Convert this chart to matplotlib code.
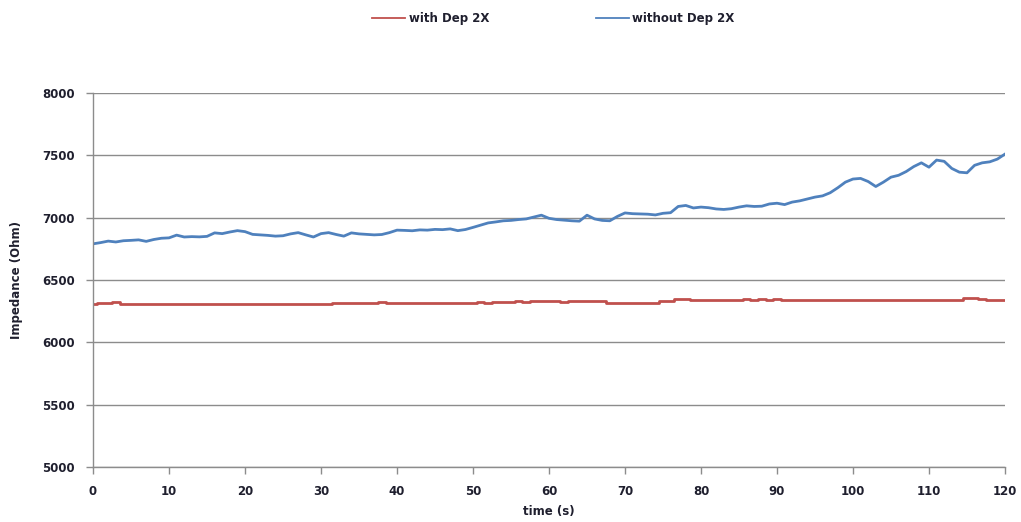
import numpy as np
import matplotlib.pyplot as plt

# time axis, one sample per second
time_s = np.arange(0, 121)

without_dep = [
    6790, 6800, 6812, 6805, 6815, 6818, 6822, 6810, 6825, 6835,
    6838, 6860, 6845, 6848, 6846, 6850, 6878, 6872, 6885, 6896,
    6888, 6866, 6862, 6858, 6852, 6855, 6870, 6880, 6862, 6845,
    6872, 6880, 6865, 6852, 6878, 6870, 6866, 6862, 6865, 6880,
    6900, 6898, 6895, 6902, 6900, 6906, 6904, 6910, 6896, 6905,
    6922, 6940, 6958, 6966, 6975, 6978, 6985, 6990, 7005, 7020,
    6995, 6985, 6980, 6975, 6972, 7020, 6990, 6978, 6975, 7010,
    7038, 7032, 7030, 7028, 7022, 7035, 7040, 7090, 7098, 7078,
    7085, 7080, 7070, 7066, 7072, 7085, 7095, 7090, 7092, 7110,
    7116, 7105, 7125, 7135, 7150, 7165, 7175, 7200, 7240, 7285,
    7310, 7315, 7290, 7250, 7285, 7325, 7340, 7370, 7410, 7440,
    7405, 7462, 7452, 7395, 7365, 7360, 7420, 7440, 7448, 7470,
    7510,
]

with_dep = [
    6305, 6318, 6312, 6320, 6305, 6305, 6305, 6305, 6305, 6305,
    6305, 6305, 6305, 6305, 6305, 6305, 6305, 6305, 6305, 6305,
    6308, 6308, 6310, 6310, 6310, 6310, 6310, 6310, 6310, 6310,
    6310, 6310, 6312, 6312, 6312, 6312, 6312, 6312, 6320, 6312,
    6312, 6312, 6312, 6312, 6312, 6312, 6312, 6312, 6312, 6312,
    6315, 6322, 6318, 6326, 6320, 6322, 6330, 6326, 6332, 6328,
    6334, 6330, 6326, 6332, 6328, 6333, 6334, 6334, 6318, 6318,
    6318, 6318, 6318, 6318, 6318, 6330, 6335, 6345, 6344, 6338,
    6340, 6340, 6340, 6340, 6340, 6340, 6344, 6338, 6344, 6340,
    6344, 6338, 6342, 6340, 6342, 6340, 6340, 6341, 6341, 6341,
    6341, 6341, 6341, 6341, 6341, 6341, 6341, 6341, 6341, 6341,
    6341, 6341, 6341, 6341, 6341, 6352, 6356, 6345, 6341, 6341,
    6341,
]

x_ticks = np.arange(0, 121, 10)
y_ticks = np.arange(5000, 8001, 500)

plt.rcParams['font.family'] = ['DejaVu Sans']
text_color = '#1f1f2e'
fs = 8.5

fig = plt.figure(figsize=(10.21, 5.22), dpi=100)
ax = fig.add_axes([0.0911, 0.1054, 0.8932, 0.7164])

# red trace is nearly flat with small square bumps, blue one wanders upward
ax.plot(time_s, with_dep, color='#C0504D', lw=2.0, drawstyle='steps-mid',
        label='with Dep 2X')
ax.plot(time_s, without_dep, color='#4F81BD', lw=2.0, label='without Dep 2X')

ax.set_xlim(0, 120)
ax.set_ylim(5000, 8000)
ax.set_xticks(x_ticks)
ax.set_yticks(y_ticks)
ax.yaxis.grid(True, color='#8c8c8c', lw=1.0)
ax.set_axisbelow(True)

for side in ('top', 'right'):
    ax.spines[side].set_visible(False)
for side in ('left', 'bottom'):
    ax.spines[side].set_color('#8c8c8c')
    ax.spines[side].set_linewidth(1.0)

ax.tick_params(axis='both', colors='#8c8c8c', length=5, width=1,
               labelcolor=text_color, labelsize=fs)
for lbl in ax.get_xticklabels() + ax.get_yticklabels():
    lbl.set_fontweight('bold')
ax.tick_params(axis='x', pad=8)
ax.tick_params(axis='y', pad=8)

ax.set_xlabel('time (s)', fontsize=fs, fontweight='bold', color=text_color, labelpad=5)
ax.set_ylabel('Impedance (Ohm)', fontsize=fs, fontweight='bold', color=text_color, labelpad=14)

leg = fig.legend(loc='center', bbox_to_anchor=(0.542, 0.965), ncol=2, frameon=False,
                 handlelength=2.8, handletextpad=0.3, columnspacing=9.0,
                 prop={'weight': 'bold', 'size': fs})
for line in leg.get_lines():
    line.set_linewidth(1.3)
for txt in leg.get_texts():
    txt.set_color(text_color)

fig.savefig('out.png', dpi=100)
